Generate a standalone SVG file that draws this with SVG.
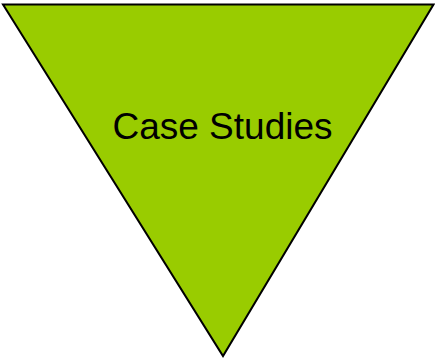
<svg xmlns="http://www.w3.org/2000/svg" width="435" height="359" viewBox="0 0 435 359">
<style>
.shape{fill:#99CC00;stroke:#000;stroke-width:2;stroke-linejoin:miter}
.label{font-family:"Liberation Sans",Arial,sans-serif;font-size:37px;fill:#000;text-anchor:middle}
</style>
<rect width="435" height="359" fill="#fff"/>
<g id="case-studies">
<polygon class="shape" points="3,4.5 433.5,4.5 223,356"/>
<text class="label" x="222.5" y="139">Case Studies</text>
</g>
<g id="connectors"/>
</svg>
